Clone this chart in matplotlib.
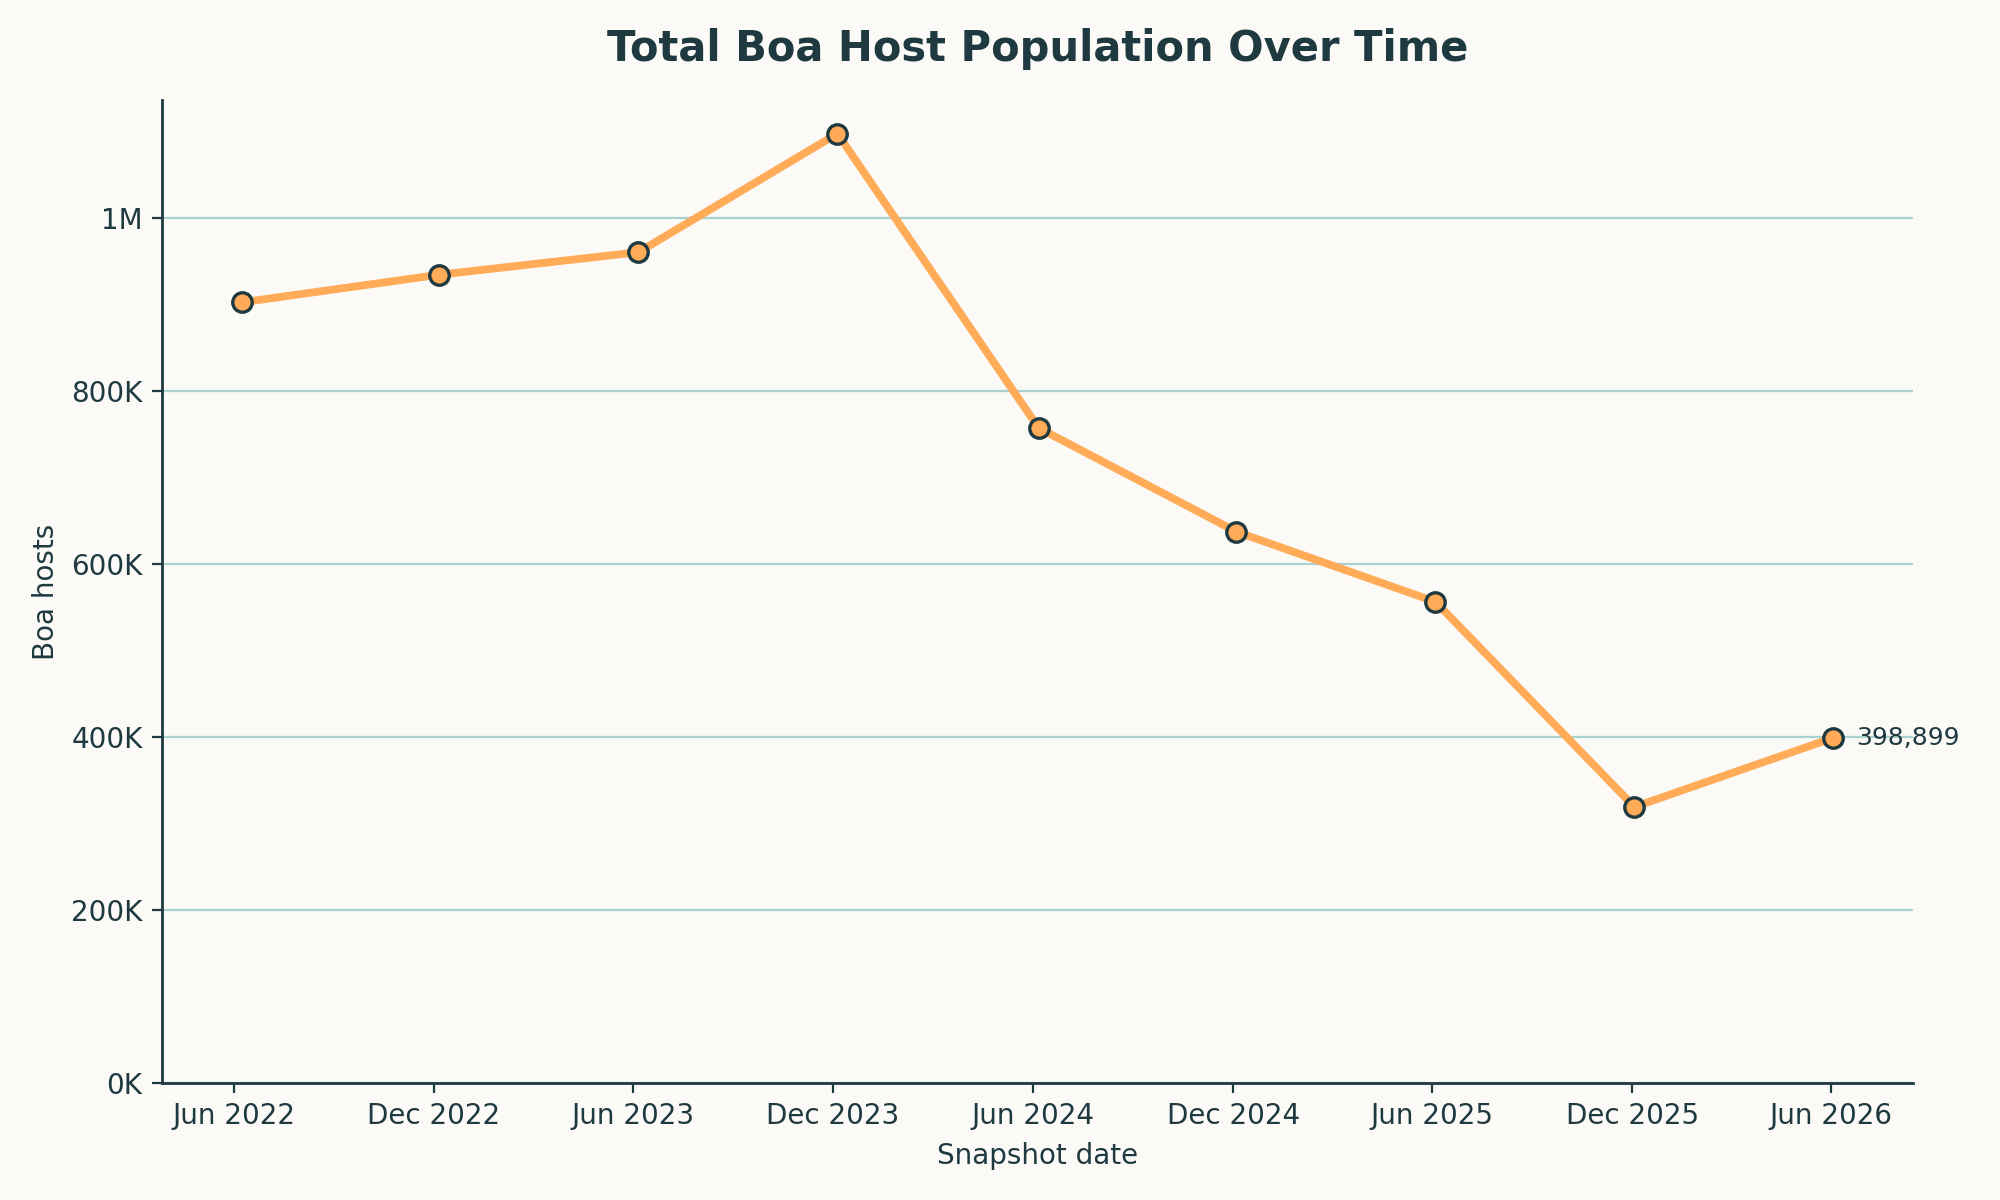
import numpy as np
import pandas as pd
import matplotlib
matplotlib.use("Agg")
import matplotlib.pyplot as plt
import matplotlib.dates as mdates
from matplotlib.ticker import FuncFormatter

# snapshot dates and host counts
snapshot_dates = pd.to_datetime([
    "2022-06-08", "2022-12-06", "2023-06-06", "2023-12-05", "2024-06-06",
    "2024-12-04", "2025-06-04", "2025-12-03", "2026-06-03",
])
boa_hosts = [902000, 934000, 960000, 1097000, 757000, 637000, 556000, 319000, 398899]

bg = "#fbfaf6"
ink = "#1e3a40"
orange = "#ffab57"
grid_col = "#a9d2d0"

fig, ax = plt.subplots(figsize=(10, 6), dpi=200)
fig.patch.set_facecolor(bg)
ax.set_facecolor(bg)
fig.subplots_adjust(left=0.081, right=0.9565, bottom=0.0975, top=0.9167)

ax.plot(snapshot_dates, boa_hosts, color=orange, lw=2.8, marker="o",
        markersize=7, markerfacecolor=orange, markeredgecolor=ink,
        markeredgewidth=1.2, zorder=3)

# label the latest snapshot
ax.annotate(f"{boa_hosts[-1]:,}", (snapshot_dates[-1], boa_hosts[-1]),
            xytext=(8, 0), textcoords="offset points", va="center", ha="left",
            fontsize=9, color=ink)

ax.set_ylim(bottom=0)
ax.yaxis.set_major_locator(plt.MultipleLocator(200000))


def fmt_hosts(v, pos):
    if v >= 1e6:
        return f"{v / 1e6:.0f}M"
    return f"{v / 1e3:.0f}K"


ax.yaxis.set_major_formatter(FuncFormatter(fmt_hosts))
ax.xaxis.set_major_locator(mdates.MonthLocator(bymonth=[6, 12]))
ax.xaxis.set_major_formatter(mdates.DateFormatter("%b %Y"))

ax.grid(axis="y", color=grid_col, lw=0.8)
ax.set_axisbelow(True)
for s in ["top", "right"]:
    ax.spines[s].set_visible(False)
for s in ["left", "bottom"]:
    ax.spines[s].set_color(ink)
    ax.spines[s].set_linewidth(1.0)
ax.tick_params(colors=ink, labelsize=10)

ax.set_title("Total Boa Host Population Over Time", fontsize=15, fontweight="bold",
             color=ink, pad=14)
ax.set_xlabel("Snapshot date", fontsize=10, color=ink)
ax.set_ylabel("Boa hosts", fontsize=10, color=ink)

fig.savefig("out.png", dpi=200, facecolor=bg)
